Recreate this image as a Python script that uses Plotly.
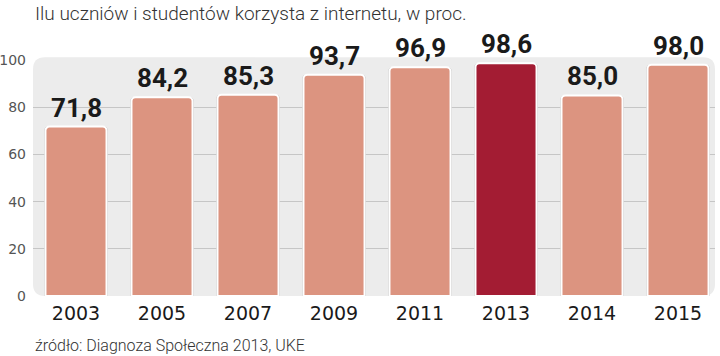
import plotly.graph_objects as go

years = ["2003", "2005", "2007", "2009", "2011", "2013", "2014", "2015"]
values = [71.8, 84.2, 85.3, 93.7, 96.9, 98.6, 85.0, 98.0]
labels = ["71,8", "84,2", "85,3", "93,7", "96,9", "98,6", "85,0", "98,0"]
highlight = "2013"
y_ticks = [0, 20, 40, 60, 80, 100]

LIGHT = "#dc9480"
DARK = "#a31c33"
colors = [DARK if y == highlight else LIGHT for y in years]

W, H = 720, 356
ML, MR, MT, MB = 33, 5, 60, 60

fig = go.Figure()
fig.add_trace(go.Bar(
    x=years, y=values, width=0.735,
    marker=dict(color="#a8a8a8", line=dict(width=0), cornerradius=4),
    hoverinfo="skip", showlegend=False,
))
fig.add_trace(go.Bar(
    x=years, y=values, width=0.71,
    marker=dict(color=colors, line=dict(color="white", width=2), cornerradius=4),
    showlegend=False,
))

for i, (v, t) in enumerate(zip(values, labels)):
    fig.add_annotation(x=i, y=v, xref="x", yref="y", text=t, showarrow=False,
                       yanchor="bottom", yshift=2,
                       font=dict(family="Roboto", size=26,
                                 color="#1a1a1a", weight="bold"))

# rounded background panel in paper coords
pw = W - ML - MR
ph = H - MT - MB
rx = 12 / pw
ry = 12 / ph
top = 1.012
path = (f"M {rx},0 L {1-rx},0 Q 1,0 1,{ry} L 1,{top-ry} Q 1,{top} {1-rx},{top} "
        f"L {rx},{top} Q 0,{top} 0,{top-ry} L 0,{ry} Q 0,0 {rx},0 Z")
fig.add_shape(type="path", path=path, xref="paper", yref="paper",
              fillcolor="#ececec", line=dict(width=0), layer="below")

fig.update_layout(
    width=W, height=H,
    margin=dict(l=ML, r=MR, t=MT, b=MB, autoexpand=False),
    paper_bgcolor="white", plot_bgcolor="rgba(0,0,0,0)",
    barmode="overlay",
    font=dict(family="DejaVu Sans", color="#222"),
    xaxis=dict(type="category", range=[-0.5, 7.43], showgrid=False, zeroline=False,
               showline=False, automargin=False,
               tickfont=dict(size=19, color="#1a1a1a", family="DejaVu Sans"), ticks="",
               ticklabelstandoff=4),
    yaxis=dict(range=[0, 100], tickvals=y_ticks, showgrid=True, gridcolor="#c6c6c6",
               gridwidth=1, zeroline=False, showline=False, automargin=False,
               tickfont=dict(size=14, color="#555", family="DejaVu Sans"),
               ticks="", ticklabelstandoff=6, layer="below traces"),
)
fig.add_annotation(text="Ilu uczniów i studentów korzysta z internetu, w proc.",
                   xref="paper", yref="paper", x=0, y=1, xanchor="left", yanchor="middle",
                   yshift=47, showarrow=False,
                   font=dict(family="Roboto", size=19, color="#333", weight=300))
fig.add_annotation(text="źródło: Diagnoza Społeczna 2013, UKE",
                   xref="paper", yref="paper", x=0, y=0, xanchor="left", yanchor="middle",
                   yshift=-49, showarrow=False,
                   font=dict(family="Roboto", size=16, color="#333", weight=300))

fig.write_html("out.html", config={"displayModeBar": False},
               post_script="document.body.style.margin='0';document.body.style.overflow='hidden';")
